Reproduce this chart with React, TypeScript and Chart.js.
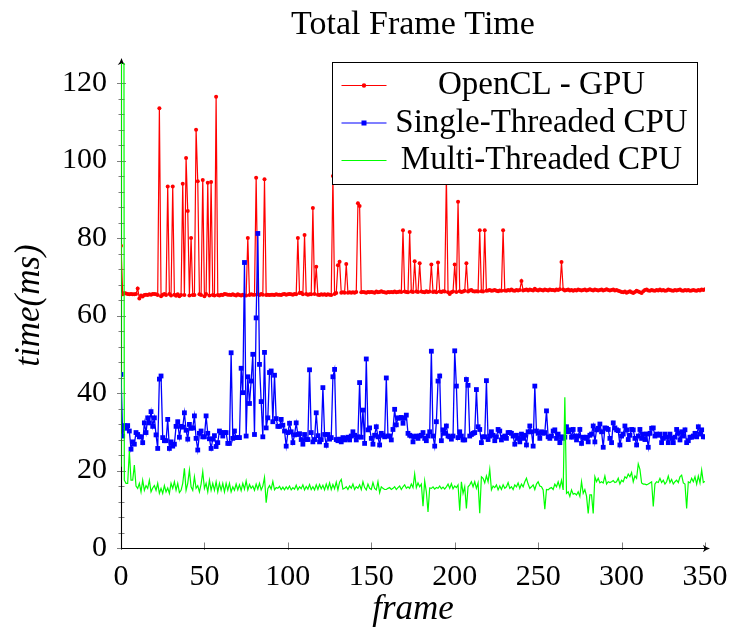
import React, { useEffect, useRef } from "react";
import { Chart, registerables } from "chart.js";

Chart.register(...registerables);

const SERIF = '"Liberation Serif", "Times New Roman", serif';

const chartTitle = "Total Frame Time";
const xAxisTitle = "frame";
const yAxisTitle = "time(ms)";
const seriesNames = ["OpenCL - GPU", "Single-Threaded CPU", "Multi-Threaded CPU"];

const xTickValues = [0, 50, 100, 150, 200, 250, 300, 350];
const yTickValues = [0, 20, 40, 60, 80, 100, 120];
const yMinorTickValues = [4, 8, 12, 16, 24, 28, 32, 36, 44, 48, 52, 56, 64, 68, 72, 76, 84, 88, 92, 96, 104, 108, 112, 116];

// frame index = array index
const openclGpu = [
  78, 65.5, 65.8, 65.7, 65.6, 65.5, 65.6, 65.5, 65.5, 65.6,
  67, 64.4, 65.2, 64.9, 65.3, 65.4, 65.3, 65.5, 65.4, 65.6,
  65.6, 65.5, 65.3, 113.5, 65.0, 65.4, 65.6, 65.3, 93.3, 65.6,
  65.2, 93.3, 65.4, 65.1, 65.5, 65.0, 65.3, 94.0, 65.3, 100.7,
  87.0, 65.2, 80.0, 65.3, 65.3, 108.0, 94.7, 65.5, 65.3, 95.0,
  65.0, 65.6, 94.3, 65.2, 94.5, 65.3, 65.2, 116.5, 65.3, 65.2,
  65.4, 65.3, 65.6, 65.5, 65.4, 65.4, 65.3, 65.5, 65.3, 65.2,
  65.5, 65.3, 65.2, 65.4, 65.2, 65.2, 80.0, 65.3, 65.5, 65.4,
  65.4, 95.6, 65.5, 65.3, 65.6, 65.4, 95.2, 65.3, 65.4, 65.3,
  65.4, 65.4, 65.3, 65.5, 65.4, 65.4, 65.3, 65.5, 65.6, 65.4,
  65.5, 65.6, 65.5, 65.4, 65.6, 65.5, 80.0, 65.8, 65.9, 65.5,
  80.8, 65.6, 65.4, 65.5, 65.5, 87.8, 65.6, 72.6, 65.4, 65.3,
  65.5, 65.4, 65.5, 65.3, 65.5, 65.4, 65.3, 96.0, 65.6, 65.8,
  73.0, 73.9, 65.9, 66.0, 65.9, 73.3, 65.9, 66.0, 65.9, 66.0,
  65.9, 66.1, 89.0, 88.3, 66.0, 66.1, 66.0, 65.9, 66.1, 66.0,
  66.1, 66.0, 65.9, 66.2, 66.0, 66.1, 66.3, 66.1, 66.0, 65.9,
  66.1, 66.0, 66.1, 66.0, 66.2, 66.0, 66.1, 66.2, 66.1, 82.0,
  66.2, 66.1, 66.0, 81.6, 66.2, 66.1, 74.0, 66.2, 66.1, 73.5,
  66.2, 66.1, 66.0, 66.3, 66.1, 66.2, 73.2, 66.1, 66.2, 66.0,
  73.7, 66.2, 66.1, 66.3, 66.2, 96.0, 66.0, 65.6, 66.0, 66.2,
  73.2, 66.1, 89.4, 66.3, 66.1, 66.2, 66.4, 73.5, 66.2, 66.5,
  66.6, 66.3, 66.2, 66.3, 66.2, 82.0, 66.3, 66.2, 82.0, 66.4,
  66.5, 66.6, 66.4, 66.5, 66.6, 66.4, 66.3, 66.5, 66.4, 82.0,
  66.5, 66.4, 66.6, 66.5, 66.7, 66.5, 66.4, 66.6, 66.5, 66.6,
  68.9, 66.5, 66.6, 66.7, 66.5, 66.7, 66.6, 66.5, 66.9, 66.6,
  66.5, 66.7, 66.6, 66.5, 66.7, 66.6, 66.5, 66.7, 66.6, 66.6,
  66.5, 66.7, 66.6, 66.8, 73.8, 66.7, 66.5, 66.6, 66.7, 66.5,
  66.6, 66.4, 66.6, 66.5, 66.7, 66.6, 66.5, 66.6, 66.7, 66.5,
  66.6, 66.8, 66.6, 66.5, 66.7, 66.6, 66.5, 66.6, 66.7, 66.5,
  66.6, 66.8, 66.6, 66.5, 66.6, 66.7, 66.5, 66.6, 66.4, 66.3,
  66.1, 66.0, 66.2, 65.9, 66.1, 66.3, 66.0, 65.8, 66.1, 66.4,
  66.2, 66.0, 65.8, 66.3, 66.6, 66.7, 66.5, 66.4, 66.6, 66.5,
  66.4, 66.6, 66.5, 66.7, 66.5, 66.6, 66.4, 66.5, 66.7, 66.6,
  66.5, 66.4, 66.6, 66.5, 66.6, 66.7, 66.5, 66.4, 66.6, 66.5,
  66.6, 66.4, 66.5, 66.6, 66.5, 66.4, 66.6, 66.5, 66.7, 66.6,
  66.8,
];

const singleThreadedCpu = [
  44.8, 28.9, 31.6, 30.9, 31.6, 30.2, 25.5, 27.4, 26.8, 29.8,
  29.3, 28.7, 28.7, 27.2, 32.3, 29.8, 33.6, 32.3, 35.2, 31.4,
  33.6, 29.2, 25.7, 43.6, 44.4, 28.5, 27.7, 27.7, 33.2, 25.7,
  27.4, 26.3, 26.8, 31.4, 32.6, 28.6, 31.4, 31.2, 34.9, 30.4,
  28.1, 31.9, 30.9, 31.0, 34.1, 28.3, 25.3, 29.6, 30.2, 28.7,
  28.7, 34.1, 29.6, 28.2, 25.7, 28.1, 29.0, 26.2, 27.2, 30.2,
  29.8, 28.9, 29.8, 29.8, 27.0, 27.0, 50.4, 28.3, 30.2, 28.5,
  28.5, 28.5, 46.4, 40.1, 73.7, 28.9, 44.2, 37.3, 43.1, 50.0,
  29.3, 59.4, 81.2, 47.4, 37.8, 28.7, 50.5, 31.0, 33.6, 45.3,
  45.7, 32.6, 44.6, 33.4, 31.4, 31.4, 33.2, 31.7, 30.2, 26.3,
  29.8, 32.2, 30.0, 27.2, 29.2, 32.3, 29.3, 29.5, 28.0, 26.8,
  29.3, 28.0, 28.0, 46.0, 29.8, 27.4, 28.0, 34.9, 29.0, 27.4,
  28.0, 41.4, 29.3, 26.5, 29.3, 28.1, 28.5, 44.2, 46.1, 28.0,
  27.7, 28.1, 27.4, 28.5, 27.9, 28.3, 28.6, 27.9, 28.9, 30.0,
  29.1, 27.9, 28.7, 42.7, 28.6, 35.6, 27.0, 48.8, 30.5, 31.0,
  28.3, 26.8, 29.1, 31.3, 28.7, 26.6, 29.6, 29.1, 28.7, 43.9,
  28.9, 28.9, 27.9, 30.6, 35.8, 31.8, 33.6, 33.5, 33.7, 32.2,
  33.5, 34.3, 29.6, 29.1, 28.9, 27.4, 28.7, 28.9, 28.3, 28.9,
  29.1, 29.8, 28.3, 27.7, 28.9, 30.0, 50.8, 28.9, 26.3, 32.6,
  43.1, 44.4, 27.7, 30.5, 29.6, 31.5, 28.9, 28.7, 28.1, 28.9,
  50.9, 41.8, 28.5, 30.0, 28.9, 27.9, 27.9, 43.5, 42.0, 28.9,
  29.3, 29.6, 29.8, 40.9, 31.3, 30.6, 27.2, 28.7, 28.7, 43.2,
  28.0, 28.9, 30.0, 29.1, 27.7, 28.7, 30.6, 30.2, 27.9, 28.6,
  28.9, 28.3, 29.8, 29.8, 29.6, 28.9, 26.8, 29.1, 28.3, 27.4,
  29.4, 28.3, 29.1, 26.6, 30.0, 31.5, 30.0, 26.3, 41.8, 30.2,
  29.6, 28.3, 30.0, 29.6, 29.8, 35.4, 28.7, 28.3, 28.9, 30.2,
  30.5, 28.3, 29.4, 27.2, 28.7, 28.3, 28.6, 31.3, 30.0, 30.5,
  28.6, 30.6, 28.9, 27.9, 28.9, 30.6, 27.0, 28.6, 28.3, 28.6,
  27.4, 29.1, 29.4, 31.5, 27.4, 30.5, 30.9, 32.0, 30.0, 26.0,
  31.0, 30.9, 30.6, 28.3, 27.2, 32.3, 31.0, 30.5, 30.3, 26.6,
  28.9, 29.4, 31.5, 30.5, 28.0, 29.1, 30.6, 30.5, 28.3, 26.6,
  28.9, 30.6, 28.3, 29.4, 28.0, 29.4, 26.0, 29.6, 30.9, 31.0,
  28.9, 29.4, 29.1, 29.4, 27.2, 28.3, 29.4, 28.6, 27.2, 29.4,
  28.3, 27.2, 28.6, 30.6, 29.6, 27.9, 30.0, 28.9, 30.5, 27.2,
  27.7, 28.6, 28.6, 28.9, 29.6, 28.7, 31.3, 29.4, 30.5, 28.7,
  28.7,
];

const multiThreadedCpu = [
  21.0, 500.0, 17.5, 16.7, 16.7, 25.0, 17.5, 17.5, 21.4, 16.0,
  15.4, 16.7, 14.5, 17.5, 14.9, 16.1, 15.4, 17.5, 14.5, 15.5,
  16.1, 14.9, 16.7, 14.1, 15.4, 14.1, 16.1, 14.5, 15.5, 14.1,
  16.7, 15.4, 17.1, 14.9, 16.7, 14.3, 14.9, 16.7, 20.6, 14.9,
  16.7, 20.1, 15.8, 14.9, 18.4, 15.4, 16.1, 14.5, 16.5, 19.7,
  15.4, 16.7, 14.5, 17.5, 14.9, 16.7, 14.9, 17.1, 14.5, 16.7,
  14.9, 16.7, 14.5, 16.7, 14.9, 16.7, 14.5, 15.8, 14.9, 16.5,
  15.0, 16.3, 14.8, 16.7, 15.2, 17.3, 15.0, 16.4, 15.4, 16.0,
  14.9, 16.5, 15.2, 16.7, 15.0, 16.0, 18.2, 11.7, 15.3, 16.1,
  15.2, 17.2, 15.0, 15.6, 15.4, 15.9, 15.1, 15.7, 15.0, 15.8,
  15.2, 16.0, 15.0, 15.6, 15.2, 16.2, 15.0, 15.8, 15.3, 16.3,
  15.0, 15.9, 15.2, 16.4, 15.1, 15.8, 15.0, 16.3, 15.1, 16.4,
  15.3, 16.2, 15.0, 16.5, 15.2, 16.8, 15.1, 16.4, 15.3, 17.0,
  15.0, 17.0, 17.7, 15.2, 15.4, 15.8, 15.1, 16.0, 15.4, 16.5,
  15.1, 15.8, 15.4, 16.3, 15.1, 17.1, 15.6, 15.0, 16.5, 15.4,
  15.1, 16.9, 15.4, 15.0, 17.1, 14.3, 15.8, 15.4, 15.1, 15.1,
  15.4, 15.6, 15.1, 15.4, 15.8, 15.1, 15.6, 16.0, 15.1, 15.8,
  16.3, 15.4, 15.8, 15.4, 16.5, 15.6, 19.1, 15.6, 16.8, 15.8,
  16.5, 10.8, 17.3, 14.5, 9.3, 15.5, 15.4, 15.8, 15.2, 15.6,
  15.4, 16.0, 15.3, 15.7, 15.2, 15.8, 16.5, 15.4, 16.6, 15.3,
  16.0, 15.6, 16.3, 9.6, 17.1, 14.1, 15.8, 10.2, 15.8, 16.3,
  17.1, 15.8, 17.1, 15.4, 16.8, 9.0, 18.4, 18.0, 16.8, 18.6,
  17.1, 20.3, 15.0, 16.0, 15.6, 16.3, 15.0, 16.0, 15.1, 16.3,
  15.4, 15.8, 16.9, 15.4, 15.8, 15.1, 16.3, 15.8, 16.8, 15.4,
  16.5, 15.8, 17.1, 18.0, 16.5, 15.4, 15.8, 16.3, 15.1, 16.5,
  17.1, 16.0, 15.8, 15.0, 10.0, 15.1, 15.0, 15.4, 15.6, 15.1,
  16.5, 15.8, 17.1, 15.6, 17.5, 15.0, 38.9, 14.1, 14.5, 13.3,
  15.0, 13.9, 14.1, 13.7, 14.5, 13.3, 17.1, 14.1, 15.1, 13.4,
  8.9, 13.7, 13.7, 8.9, 18.4, 17.1, 18.0, 16.8, 17.1, 16.8,
  18.6, 16.5, 17.1, 16.9, 17.1, 17.4, 16.9, 17.1, 18.0, 16.5,
  17.5, 17.1, 18.4, 18.0, 19.1, 18.4, 19.5, 17.1, 18.6, 18.0,
  21.7, 20.3, 16.8, 16.5, 16.5, 16.3, 16.5, 16.8, 17.1, 10.7,
  16.5, 17.1, 16.9, 18.0, 16.9, 17.5, 16.5, 17.1, 18.6, 16.9,
  17.7, 16.5, 17.1, 17.5, 16.9, 18.4, 18.8, 16.8, 16.5, 10.2,
  17.1, 16.8, 18.0, 17.1, 18.4, 16.5, 18.6, 16.8, 20.1, 16.9,
  17.2,
];

const toPoints = (arr: number[]) => arr.map((y, x) => ({ x, y }));

const pgfAxes = {
  id: "pgfAxes",
  beforeDatasetsDraw(chart: any) {
    const { ctx, chartArea: a, scales } = chart;
    const xs = scales.x;
    const ys = scales.y;
    ctx.save();
    // tick marks
    ctx.strokeStyle = "rgba(0,0,0,0.5)";
    ctx.lineWidth = 1;
    ctx.beginPath();
    const ax = Math.round(a.left) + 0.5;
    const ay = Math.round(a.bottom) + 0.5;
    for (const v of yTickValues) {
      const py = Math.round(ys.getPixelForValue(v)) + 0.5;
      ctx.moveTo(ax - 4.5, py);
      ctx.lineTo(ax + 4.5, py);
    }
    for (const v of yMinorTickValues) {
      const py = Math.round(ys.getPixelForValue(v)) + 0.5;
      ctx.moveTo(ax - 3, py);
      ctx.lineTo(ax + 3, py);
    }
    for (const v of xTickValues) {
      const px = Math.round(xs.getPixelForValue(v)) + 0.5;
      ctx.moveTo(px, ay - 6);
      ctx.lineTo(px, ay + 1.5);
    }
    ctx.stroke();
    // axis lines
    ctx.strokeStyle = "#000";
    ctx.lineWidth = 1.1;
    ctx.beginPath();
    ctx.moveTo(ax, ay);
    ctx.lineTo(ax, a.top - 1);
    ctx.moveTo(ax, ay);
    ctx.lineTo(a.right + 1, ay);
    ctx.stroke();
    // arrow heads
    ctx.fillStyle = "#000";
    const tipY = a.top - 5;
    ctx.beginPath();
    ctx.moveTo(ax, tipY);
    ctx.quadraticCurveTo(ax + 1, tipY + 4, ax + 3.8, tipY + 7);
    ctx.lineTo(ax, tipY + 5.5);
    ctx.lineTo(ax - 3.8, tipY + 7);
    ctx.quadraticCurveTo(ax - 1, tipY + 4, ax, tipY);
    ctx.fill();
    const tipX = a.right + 5;
    ctx.beginPath();
    ctx.moveTo(tipX, ay);
    ctx.quadraticCurveTo(tipX - 4, ay + 1, tipX - 7, ay + 3.8);
    ctx.lineTo(tipX - 5.5, ay);
    ctx.lineTo(tipX - 7, ay - 3.8);
    ctx.quadraticCurveTo(tipX - 4, ay - 1, tipX, ay);
    ctx.fill();
    ctx.restore();
  },
};

const legendEntries = [
  { color: "#ff0000", marker: "circle" },
  { color: "#0000ff", marker: "rect" },
  { color: "#00ff00", marker: "none" },
];

const pgfLegendAndTitle = {
  id: "pgfLegendAndTitle",
  afterDraw(chart: any) {
    const { ctx, chartArea: a } = chart;
    ctx.save();
    // title centred over the plot area
    ctx.fillStyle = "#000";
    ctx.font = `34px ${SERIF}`;
    ctx.textAlign = "center";
    ctx.textBaseline = "alphabetic";
    ctx.fillText(chartTitle, (a.left + a.right) / 2, a.top - 29);

    const right = a.right - 7.5;
    const left = right - 365;
    const top = a.top - 0.5;
    const h = 122;
    ctx.fillStyle = "#fff";
    ctx.fillRect(left, top, right - left, h);
    ctx.strokeStyle = "#000";
    ctx.lineWidth = 1;
    ctx.strokeRect(left, top, right - left, h);
    const rowYs = [top + 23, top + 60.5, top + 98];
    ctx.font = `33px ${SERIF}`;
    legendEntries.forEach((e, i) => {
      const y = rowYs[i];
      const x1 = left + 9;
      const x2 = left + 54;
      ctx.strokeStyle = e.color;
      ctx.lineWidth = 1.2;
      ctx.beginPath();
      ctx.moveTo(x1, y);
      ctx.lineTo(x2, y);
      ctx.stroke();
      const mx = (x1 + x2) / 2;
      ctx.fillStyle = e.color;
      if (e.marker === "circle") {
        ctx.beginPath();
        ctx.arc(mx, y, 2.2, 0, Math.PI * 2);
        ctx.fill();
      } else if (e.marker === "rect") {
        ctx.fillRect(mx - 2.5, y - 2.5, 5, 5);
      }
      ctx.fillStyle = "#000";
      ctx.fillText(seriesNames[i], left + 209, y + 8.5);
    });
    ctx.restore();
  },
};

export default function App() {
  const canvasRef = useRef<HTMLCanvasElement | null>(null);

  useEffect(() => {
    const canvas = canvasRef.current;
    if (!canvas) return;
    const chart = new Chart(canvas, {
      type: "line",
      data: {
        datasets: [
          {
            label: seriesNames[0],
            data: toPoints(openclGpu),
            borderColor: "#ff0000",
            backgroundColor: "#ff0000",
            borderWidth: 1.2,
            pointRadius: 2,
            pointStyle: "circle",
            pointBorderWidth: 0,
            tension: 0,
            order: 2,
          },
          {
            label: seriesNames[1],
            data: toPoints(singleThreadedCpu),
            borderColor: "#0000ff",
            backgroundColor: "#0000ff",
            borderWidth: 1.3,
            pointRadius: 3.4,
            pointStyle: "rect",
            pointBorderWidth: 0,
            tension: 0,
            order: 1,
          },
          {
            label: seriesNames[2],
            data: toPoints(multiThreadedCpu),
            borderColor: "#00ff00",
            backgroundColor: "#00ff00",
            borderWidth: 1.2,
            pointRadius: 0,
            tension: 0,
            order: 0,
          },
        ],
      },
      options: {
        animation: false,
        responsive: false,
        devicePixelRatio: 1,
        layout: { padding: { left: 0, right: 25, top: 63, bottom: 0 } },
        plugins: {
          legend: { display: false },
          tooltip: { enabled: false },
          title: { display: false },
        },
        scales: {
          x: {
            type: "linear",
            min: 0,
            max: 350,
            afterFit: (s: any) => {
              s.height = 80;
              s.paddingLeft = 0;
              s.paddingRight = 0;
            },
            afterBuildTicks: (s: any) => {
              s.ticks = xTickValues.map((v) => ({ value: v }));
            },
            grid: { display: false, drawTicks: false },
            border: { display: false },
            ticks: {
              color: "#000",
              font: { family: SERIF, size: 30, lineHeight: 1.2 },
              padding: 11,
              maxRotation: 0,
              autoSkip: false,
            },
            title: {
              display: true,
              text: xAxisTitle,
              color: "#000",
              font: { family: SERIF, size: 35, style: "italic", lineHeight: 1 },
              padding: { top: 0, bottom: 1 },
            },
          },
          y: {
            type: "linear",
            min: 0,
            max: 125.2,
            afterFit: (s: any) => {
              s.width = 121;
              s.paddingTop = 0;
              s.paddingBottom = 0;
            },
            afterBuildTicks: (s: any) => {
              s.ticks = yTickValues.map((v) => ({ value: v }));
            },
            grid: { display: false, drawTicks: false },
            border: { display: false },
            ticks: {
              color: "#000",
              font: { family: SERIF, size: 30, lineHeight: 1.2 },
              padding: 14,
              autoSkip: false,
            },
            title: {
              display: true,
              text: yAxisTitle,
              color: "#000",
              font: { family: SERIF, size: 35, style: "italic", lineHeight: 1 },
              padding: { top: 12, bottom: 0 },
            },
          },
        },
      },
      plugins: [pgfAxes, pgfLegendAndTitle],
    });
    return () => chart.destroy();
  }, []);

  return (
    <div style={{ position: "fixed", left: 0, top: 0, width: 730, height: 628, background: "#fff" }}>
      <canvas ref={canvasRef} width={730} height={628} style={{ display: "block" }} />
    </div>
  );
}
